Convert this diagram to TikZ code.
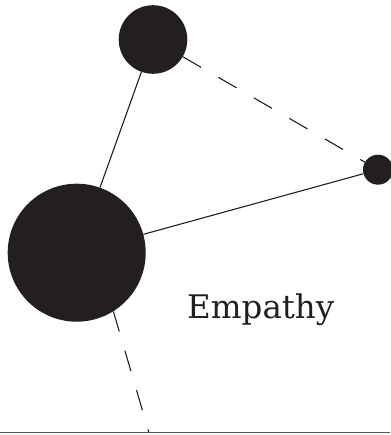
\documentclass[tikz,border=0pt]{standalone}
\usepackage{fontspec}
\setmainfont{DejaVu Serif}
\definecolor{ink}{HTML}{231F20}
\definecolor{rule}{HTML}{555555}
\begin{document}
\begin{tikzpicture}[x=1pt,y=-1pt,
  dot/.style={circle,fill=ink,inner sep=0pt},
  link/.style={line width=1.1pt,draw=ink},
  dashlink/.style={link,dash pattern=on 21pt off 20pt}]
  \useasboundingbox (0,0) rectangle (390,435);
  \node[dot,minimum size=138pt] (big) at (76.7,252.7) {};
  \node[dot,minimum size=68.6pt] (top) at (153,39.5) {};
  \node[dot,minimum size=30pt] (small) at (378,169.7) {};
  \coordinate (floorL) at (0,432.7);
  \coordinate (floorR) at (390,432.7);
  \coordinate (foot) at (149,432.7);
  \draw[link] (big) -- (top);
  \draw[link] (big) -- (small);
  \draw[dashlink] (top) -- (small);
  \draw[dashlink] (big.-58) -- (foot);
  \draw[line width=1.5pt,draw=rule] (floorL) -- (floorR);
  \node[anchor=base west,inner sep=0pt,text=ink,font=\fontsize{32.5}{32.5}\selectfont] (label) at (187,318) {Empathy};
\end{tikzpicture}
\end{document}
